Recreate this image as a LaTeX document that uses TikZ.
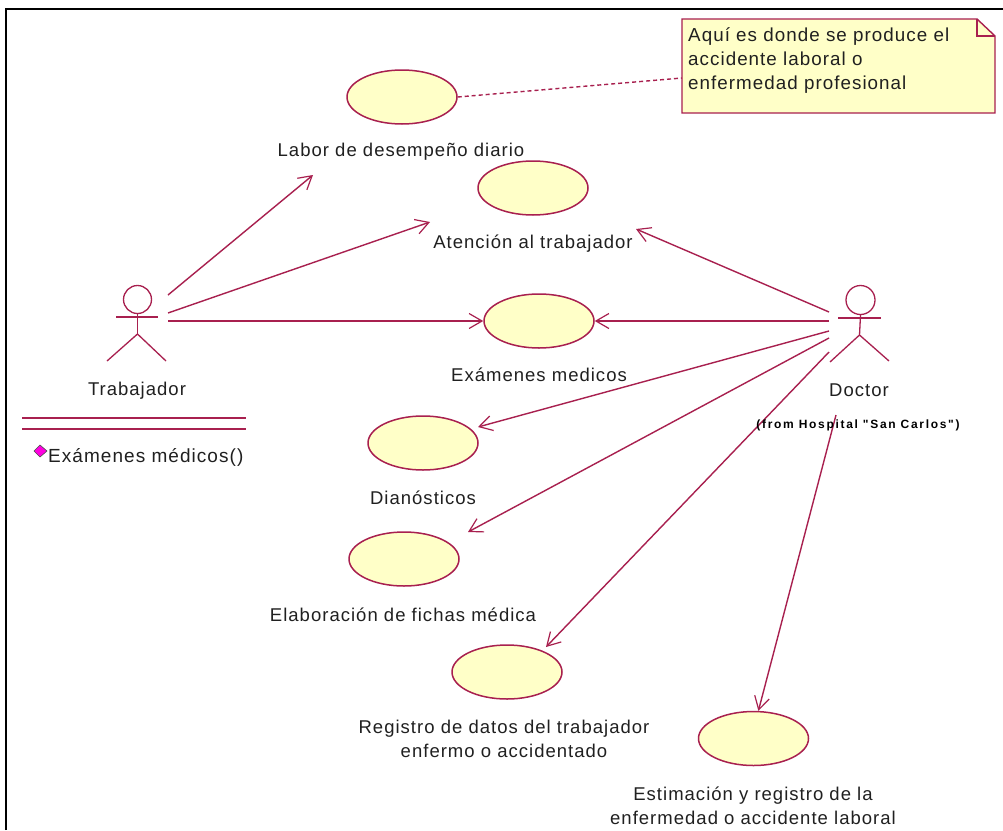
\documentclass[tikz,border=0pt]{standalone}
\usepackage{fontspec}
\setmainfont{Liberation Sans}[LetterSpace=5.5]
\newfontfamily\fromfont{Liberation Sans}[Ligatures=TeXOff,LetterSpace=14]
\usetikzlibrary{arrows.meta,shapes.geometric}
\definecolor{rose}{HTML}{A8204F}
\definecolor{ucfill}{HTML}{FFFFC8}
\definecolor{ink}{HTML}{202020}
\definecolor{opmark}{HTML}{FF00E0}
\tikzset{
  usecase/.style={ellipse,draw=rose,fill=ucfill,line width=1.5pt,minimum width=110pt,minimum height=54pt,inner sep=0pt},
  assoc/.style={draw=rose,line width=1.4pt,-{Straight Barb[length=13pt,width=15pt,line width=1.2pt]}},
  limb/.style={draw=rose,line width=1.3pt},
  lbl/.style={text=ink,font=\fontsize{18.5}{24}\selectfont,align=center,inner sep=0pt},
  frameline/.style={draw=black,line width=2pt},
}
\begin{document}
\begin{tikzpicture}[x=1pt,y=-1pt]
\useasboundingbox (0,0) rectangle (1003,830);
\fill[white] (0,0) rectangle (1003,830);
\draw[frameline] (5.5,830) -- (5.5,9) -- (1003,9);

% note
\path[fill=ucfill,draw=rose,line width=1.4pt] (682,19) -- (977,19) -- (995,36) -- (995,113) -- (682,113) -- cycle;
\draw[rose,line width=1.4pt] (977,19) -- (977,36) -- (995,36);
\coordinate (noteanchor) at (682,78);
\node[lbl,anchor=north west,align=left,font=\fontsize{18.8}{24}\selectfont] (notetext) at (688,27.5) {Aquí es donde se produce el\\accidente laboral o\\enfermedad profesional};

% use cases
\node[usecase] (uc1) at (402,97) {};
\node[usecase] (uc2) at (533,188) {};
\node[usecase] (uc3) at (539,321) {};
\node[usecase] (uc4) at (423,443) {};
\node[usecase] (uc5) at (404,559) {};
\node[usecase] (uc6) at (507,672) {};
\node[usecase] (uc7) at (753.5,738.5) {};

\node[lbl] (l1) at (401,152) {Labor de desempeño diario};
\node[lbl] (l2) at (533,244) {Atención al trabajador};
\node[lbl] (l3) at (539,375) {Exámenes medicos};
\node[lbl] (l4) at (423,497.5) {Dianósticos};
\node[lbl] (l5) at (403,615) {Elaboración de fichas médica};
\node[lbl] (l6) at (504,739) {Registro de datos del trabajador\\enfermo o accidentado};
\node[lbl] (l7) at (753,806) {Estimación y registro de la\\enfermedad o accidente laboral};

% Trabajador actor
\node[circle,draw=rose,line width=1.3pt,minimum size=28pt,inner sep=0pt] (thead) at (137.5,299.5) {};
\coordinate (thip) at (137.5,334);
\coordinate (tarml) at (116,317);
\coordinate (tarmr) at (158,317);
\coordinate (tfootl) at (107,361);
\coordinate (tfootr) at (166,361);
\draw[limb] (thead.south) -- (thip);
\draw[limb] (tarml) -- (tarmr);
\draw[limb] (tfootl) -- (thip) -- (tfootr);
\node[lbl] (tlabel) at (137,391) {Trabajador};
\coordinate (cl1a) at (22,418); \coordinate (cl1b) at (246,418);
\coordinate (cl2a) at (22,429); \coordinate (cl2b) at (246,429);
\draw[limb] (cl1a) -- (cl1b);
\draw[limb] (cl2a) -- (cl2b);
\path[fill=opmark,draw=black!70,line width=.6pt] (34,451) -- (40,445) -- (47,451) -- (40,457) -- cycle;
\node[lbl,anchor=west,font=\fontsize{19}{24}\selectfont] (op) at (48,457) {Exámenes médicos()};

% Doctor actor
\node[circle,draw=rose,line width=1.3pt,minimum size=29pt,inner sep=0pt] (dhead) at (860.5,300) {};
\coordinate (dhip) at (859.5,335);
\coordinate (darml) at (838,318);
\coordinate (darmr) at (881,318);
\coordinate (dfootl) at (830,362);
\coordinate (dfootr) at (889,361);
\draw[limb] (dhead.south) -- (dhip);
\draw[limb] (darml) -- (darmr);
\draw[limb] (dfootl) -- (dhip) -- (dfootr);
\node[lbl] (dlabel) at (859,390) {Doctor};

% connector ends
\coordinate (ts1) at (168,295); \coordinate (te1) at (313,175);
\coordinate (ts2) at (168,313); \coordinate (te2) at (430,222);
\coordinate (ts3) at (168,321);
\coordinate (ds1) at (829,312); \coordinate (de1) at (636,229);
\coordinate (ds2) at (829,321);
\coordinate (ds3) at (829,331); \coordinate (de3) at (478,427);
\coordinate (ds4) at (829,338); \coordinate (de4) at (468,532);
\coordinate (ds5) at (829,352); \coordinate (de5) at (546,647);
\coordinate (ds6) at (836,415);

\draw[assoc] (ts1) -- (te1);
\draw[assoc] (ts2) -- (te2);
\draw[assoc] (ts3) -- (uc3.west);
\draw[assoc] (ds1) -- (de1);
\draw[assoc] (ds2) -- (uc3.east);
\draw[assoc] (ds3) -- (de3);
\draw[assoc] (ds4) -- (de4);
\draw[assoc] (ds5) -- (de5);
\draw[assoc] (ds6) -- (uc7.80);
\draw[rose,line width=1.4pt,dash pattern=on 4pt off 3pt] (uc1.east) -- (noteanchor);

\node[text=black,font=\fontsize{12}{14}\fromfont\bfseries,inner sep=0pt] (dfrom) at (858,425) {(from Hospital "San Carlos")};
\end{tikzpicture}
\end{document}
